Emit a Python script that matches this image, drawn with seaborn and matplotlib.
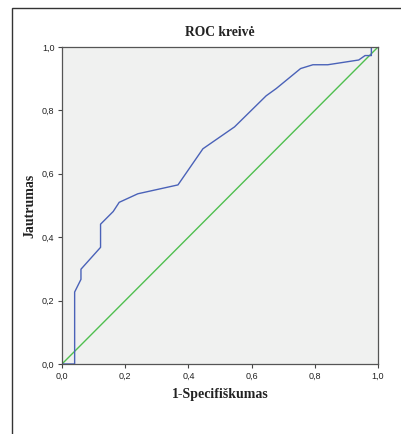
import matplotlib
matplotlib.use("Agg")
import matplotlib.pyplot as plt
import seaborn as sns
import pandas as pd
from matplotlib.patches import Rectangle
from matplotlib.ticker import FuncFormatter

fpr = [0.0, 0.04, 0.04, 0.06, 0.06, 0.122, 0.122, 0.162, 0.181, 0.24, 0.367,
       0.446, 0.546, 0.646, 0.678, 0.755, 0.794, 0.841, 0.939, 0.959, 0.979, 0.979, 1.0]
tpr = [0.0, 0.0, 0.227, 0.267, 0.299, 0.368, 0.441, 0.481, 0.510, 0.537, 0.565,
       0.679, 0.748, 0.846, 0.869, 0.932, 0.944, 0.944, 0.959, 0.973, 0.973, 1.0, 1.0]
ref_x = [0.0, 1.0]
ref_y = [0.0, 1.0]
ticks = [0.0, 0.2, 0.4, 0.6, 0.8, 1.0]

title = "ROC kreivė"
xlabel = "1-Specifiškumas"
ylabel = "Jautrumas"

sns.set_style("white")
W, H = 401, 434
fig = plt.figure(figsize=(W / 100, H / 100), dpi=100)
ax = fig.add_axes([62 / W, 1 - 364 / H, (378 - 62) / W, (364 - 47) / H])
ax.set_facecolor("#F0F1F0")

df = pd.DataFrame({"x": fpr, "y": tpr})
dref = pd.DataFrame({"x": ref_x, "y": ref_y})
sns.lineplot(data=dref, x="x", y="y", ax=ax, color="#4FBF4F", lw=1.0,
             estimator=None, sort=False)
sns.lineplot(data=df, x="x", y="y", ax=ax, color="#4A62B8", lw=1.0,
             estimator=None, sort=False)

ax.set_xlim(0, 1)
ax.set_ylim(0, 1)
ax.set_xticks(ticks)
ax.set_yticks(ticks)
fmt = FuncFormatter(lambda v, p: f"{v:.1f}".replace(".", ","))
ax.xaxis.set_major_formatter(fmt)
ax.yaxis.set_major_formatter(fmt)
ax.tick_params(axis="both", which="major", direction="out", length=3, width=0.8,
               color="#444444", labelsize=6.5, pad=2.5, bottom=True, left=True)
for lab in ax.get_xticklabels() + ax.get_yticklabels():
    lab.set_fontfamily("Liberation Sans")
    lab.set_color("#222222")
for s in ax.spines.values():
    s.set_color("#555555")
    s.set_linewidth(0.9)

serif = "Liberation Serif"
ax.set_title(title, fontfamily=serif, fontweight="bold", fontsize=9.8, pad=8, color="#222222")
ax.set_xlabel(xlabel, fontfamily=serif, fontweight="bold", fontsize=10, labelpad=5, color="#222222")
ax.set_ylabel(ylabel, fontfamily=serif, fontweight="bold", fontsize=10, labelpad=4, color="#222222")

fig.add_artist(Rectangle((12 / W, -0.1), 1.2, 1 - 8 / H + 0.1, transform=fig.transFigure,
                         fill=False, edgecolor="#333333", lw=1.0))

fig.savefig("out.png", dpi=100)
